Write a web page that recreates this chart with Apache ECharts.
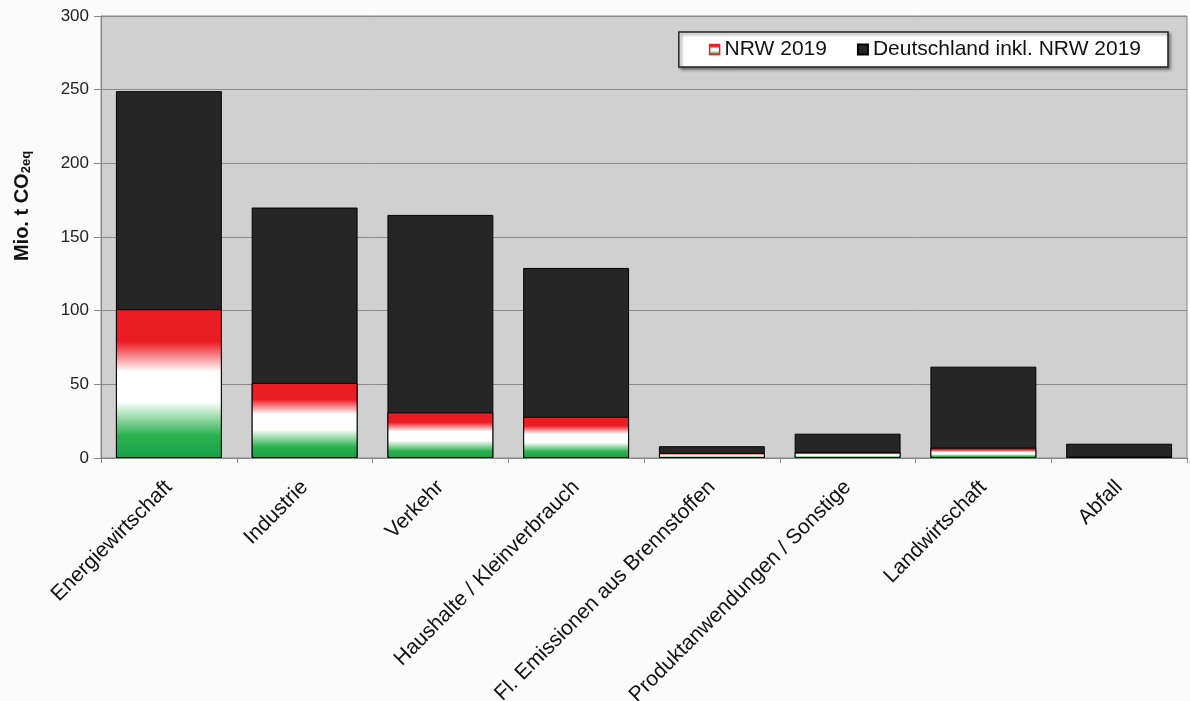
<!DOCTYPE html>
<html>
<head>
<meta charset="utf-8">
<script src="https://cdn.jsdelivr.net/npm/echarts@6/dist/echarts.min.js"></script>
<style>html,body{margin:0;padding:0;background:#fbfbfb}#c{width:1190px;height:701px}</style>
</head>
<body>
<div id="c"></div>
<script>
const categories = ["Energiewirtschaft","Industrie","Verkehr","Haushalte / Kleinverbrauch","Fl. Emissionen aus Brennstoffen","Produktanwendungen / Sonstige","Landwirtschaft","Abfall"];
const germany = [249, 170, 165, 129, 8, 16.5, 62, 9.7];
const nrw = [101, 51, 31, 28, 3.5, 4, 7, 1];
const yTicks = [0, 50, 100, 150, 200, 250, 300];

const chart = echarts.init(document.getElementById('c'));
const flag = new echarts.graphic.LinearGradient(0, 0, 0, 1, [
  {offset: 0, color: '#ec1c24'},
  {offset: 0.22, color: '#ec1c24'},
  {offset: 0.42, color: '#ffffff'},
  {offset: 0.62, color: '#ffffff'},
  {offset: 0.85, color: '#2ab24f'},
  {offset: 1, color: '#17a048'}
]);
const font = '"Liberation Sans", Arial, sans-serif';
chart.setOption({
  backgroundColor: '#fbfbfb',
  animation: false,
  textStyle: {fontFamily: font},
  grid: {left: 101, right: 3, top: 16, bottom: 243, containLabel: false, outerBoundsMode: 'none',
    show: true, backgroundColor: '#d0d0d0', borderColor: '#8a8a8a', borderWidth: 1},
  legend: {
    data: [{name: 'NRW 2019', itemStyle: {borderColor: '#e8201f', borderWidth: 1.5}}, 'Deutschland inkl. NRW 2019'],
    icon: 'rect',
    right: 22, top: 32, height: 22,
    padding: [7, 27, 7, 30],
    backgroundColor: '#ffffff', borderColor: '#222', borderWidth: 1.5,
    shadowColor: 'rgba(0,0,0,0.45)', shadowBlur: 3, shadowOffsetX: 2, shadowOffsetY: 2,
    itemWidth: 10, itemHeight: 10, itemGap: 30,
    textStyle: {fontSize: 21, color: '#111', fontFamily: font}
  },
  xAxis: {
    type: 'category', data: categories,
    axisLine: {lineStyle: {color: '#888', width: 1}},
    axisTick: {show: true, length: 5, lineStyle: {color: '#888'}},
    axisLabel: {rotate: 45, margin: 26, fontSize: 21, color: '#111', interval: 0, fontFamily: font},
    splitLine: {show: false}
  },
  yAxis: {
    type: 'value', min: 0, max: 300, interval: 50,
    axisLine: {show: true, lineStyle: {color: '#888'}},
    axisTick: {show: true, length: 7, lineStyle: {color: '#888'}},
    axisLabel: {fontSize: 17, color: '#222', margin: 12, fontFamily: font,
      formatter: v => yTicks.includes(v) ? String(v) : ''},
    splitLine: {lineStyle: {color: '#8a8a8a', width: 1}}
  },
  graphic: [{
    type: 'text', x: 22, y: 206, rotation: Math.PI / 2,
    style: {
      text: '{a|Mio. t CO}{b|2eq}',
      align: 'center', verticalAlign: 'middle',
      rich: {
        a: {fontSize: 20, fontWeight: 'bold', fill: '#111', fontFamily: font},
        b: {fontSize: 13, fontWeight: 'bold', fill: '#111', fontFamily: font, padding: [9, 0, 0, 0]}
      }
    }
  }],
  series: [
    {name: 'Deutschland inkl. NRW 2019', type: 'bar', data: germany, barWidth: '78%', barGap: '-100%',
     itemStyle: {color: '#262626', borderColor: '#000', borderWidth: 1}, z: 2},
    {name: 'NRW 2019', type: 'bar', data: nrw, barWidth: '78%', barGap: '-100%',
     itemStyle: {color: flag, borderColor: '#000', borderWidth: 1}, z: 3}
  ]
});
</script>
</body>
</html>
